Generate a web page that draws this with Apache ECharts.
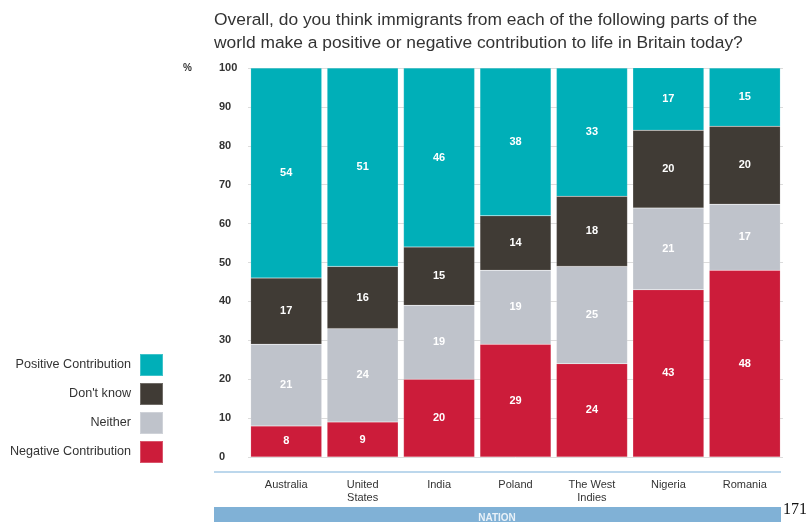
<!DOCTYPE html>
<html>
<head>
<meta charset="utf-8">
<script src="https://cdn.jsdelivr.net/npm/echarts@6/dist/echarts.min.js"></script>
<style>
  html, body { margin: 0; padding: 0; background: #ffffff; }
  #chart { width: 806px; height: 522px; }
</style>
</head>
<body>
<div id="chart"></div>
<script>
// Survey: contribution of immigrants from each region to life in Britain (%)
const categories = ['Australia', 'United\nStates', 'India', 'Poland', 'The West\nIndies', 'Nigeria', 'Romania'];
const negative = [8, 9, 20, 29, 24, 43, 48];
const neither = [21, 24, 19, 19, 25, 21, 17];
const dontKnow = [17, 16, 15, 14, 18, 20, 20];
const positive = [54, 51, 46, 38, 33, 17, 15];
const yTicks = [0, 10, 20, 30, 40, 50, 60, 70, 80, 90, 100];

const FONT = '"Liberation Sans", Arial, sans-serif';

function seg(name, data, color) {
  return {
    name: name,
    type: 'bar',
    stack: 'total',
    data: data,
    barWidth: '93%',
    itemStyle: { color: color, borderColor: 'rgba(255,255,255,0.25)', borderWidth: 0.5 },
    label: {
      show: true,
      position: 'inside',
      color: '#ffffff',
      fontFamily: FONT,
      fontWeight: 'bold',
      fontSize: 11
    }
  };
}

const chart = echarts.init(document.getElementById('chart'), null, { renderer: 'canvas' });
chart.setOption({
  animation: false,
  backgroundColor: '#ffffff',
  grid: { left: 248, right: 23, top: 68, bottom: 65 },
  legend: {
    orient: 'vertical',
    right: 637,
    top: 348,
    align: 'right',
    itemWidth: 23,
    itemHeight: 22,
    itemGap: 5,
    icon: 'rect',
    data: ['Positive Contribution', "Don't know", 'Neither', 'Negative Contribution'],
    textStyle: { fontFamily: FONT, fontSize: 12.6, color: '#333333', padding: [0, 4, 0, 0] }
  },
  xAxis: {
    type: 'category',
    data: categories,
    axisLine: { show: false },
    axisTick: { show: false },
    axisLabel: {
      margin: 21,
      fontFamily: FONT,
      fontSize: 11,
      color: '#333333',
      lineHeight: 13
    }
  },
  yAxis: {
    type: 'value',
    min: 0,
    max: 100,
    interval: 10,
    axisLine: { show: false },
    axisTick: { show: false },
    splitLine: { lineStyle: { color: '#dcdcdc', width: 1 } },
    axisLabel: {
      align: 'left',
      margin: 29,
      fontFamily: FONT,
      fontSize: 11,
      fontWeight: 'bold',
      color: '#333333',
      formatter: function (v) { return yTicks.indexOf(v) >= 0 ? String(v) : ''; }
    }
  },
  series: [
    seg('Negative Contribution', negative, '#cc1c3a'),
    seg('Neither', neither, '#bfc3cb'),
    seg("Don't know", dontKnow, '#403b35'),
    seg('Positive Contribution', positive, '#00afb8')
  ],
  graphic: [
    {
      type: 'text', left: 214, top: 9,
      style: {
        text: 'Overall, do you think immigrants from each of the following parts of the\nworld make a positive or negative contribution to life in Britain today?',
        font: '17.4px ' + FONT, fill: '#333333', lineHeight: 23
      }
    },
    {
      type: 'text', left: 183, top: 63,
      style: { text: '%', font: 'bold 10px ' + FONT, fill: '#333333' }
    },
    {
      type: 'line',
      shape: { x1: 214, y1: 472, x2: 781, y2: 472 },
      style: { stroke: '#bcd7ec', lineWidth: 2 }
    },
    {
      type: 'rect',
      shape: { x: 214, y: 507, width: 567, height: 16 },
      style: { fill: '#80b1d6' }
    },
    {
      type: 'text', x: 497, y: 518,
      style: { text: 'NATION', font: 'bold 10px ' + FONT, fill: '#e8f1f8', align: 'center', verticalAlign: 'middle' }
    },
    {
      type: 'text', left: 783, top: 502,
      style: { text: '171', font: '16px "Liberation Serif", "Times New Roman", serif', fill: '#111111' }
    }
  ]
});
</script>
</body>
</html>
